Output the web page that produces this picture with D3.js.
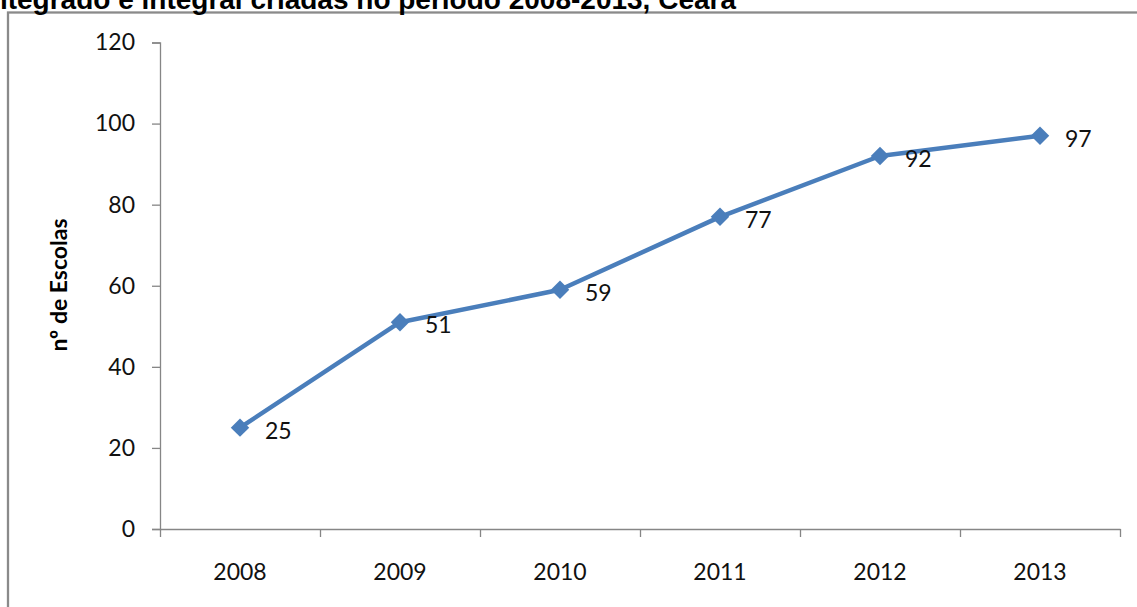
<!DOCTYPE html>
<html>
<head>
<meta charset="utf-8">
<script src="https://cdn.jsdelivr.net/npm/d3@7"></script>
<style>
  html, body { margin: 0; padding: 0; background: #fff; overflow: hidden; }
  .tickText text { font-family: Lato, "Open Sans", sans-serif; font-size: 23px; fill: #111; }
</style>
</head>
<body>
<div id="wrapper"></div>
<script>
const years = ["2008", "2009", "2010", "2011", "2012", "2013"];
const escolas = [25, 51, 59, 77, 92, 97];
const yTicks = [0, 20, 40, 60, 80, 100, 120];
const titleText = "integrado e integral criadas no período 2008-2013, Ceará";
const yLabel = "nº de Escolas";

const width = 1137;
let dimensions = {
  width,
  height: 607,
  margin: { top: 42.5, right: 17, bottom: 78, left: 160 },
};
dimensions.boundedWidth = dimensions.width - dimensions.margin.left - dimensions.margin.right;
dimensions.boundedHeight = dimensions.height - dimensions.margin.top - dimensions.margin.bottom;

const axisColor = "#868686";
const lineColor = "#4a7ebb";

const dataset = years.map((year, i) => ({ year, value: escolas[i] }));
const xAccessor = (d) => d.year;
const yAccessor = (d) => d.value;

const wrapper = d3.select("#wrapper")
  .append("svg")
  .attr("width", dimensions.width)
  .attr("height", dimensions.height);

// chart frame (runs off the right and bottom of the picture)
wrapper.append("rect")
  .attr("x", 8)
  .attr("y", 12.5)
  .attr("width", 1200)
  .attr("height", 700)
  .attr("fill", "none")
  .attr("stroke", "#8a8a8a")
  .attr("stroke-width", 2.3);

// title, cut off at the top and left like the source
wrapper.append("text")
  .attr("x", 736)
  .attr("y", 9)
  .attr("text-anchor", "end")
  .style("font-family", "'Liberation Sans', Arial, sans-serif")
  .style("font-weight", "bold")
  .style("font-size", "28px")
  .attr("fill", "#000")
  .text(titleText);

const bounds = wrapper.append("g")
  .attr("transform", `translate(${dimensions.margin.left},${dimensions.margin.top})`);

const xScale = d3.scaleBand()
  .domain(years)
  .range([0, dimensions.boundedWidth]);

const xEdges = d3.scaleLinear()
  .domain([0, years.length])
  .range([0, dimensions.boundedWidth]);

const yScale = d3.scaleLinear()
  .domain([0, 120])
  .range([dimensions.boundedHeight, 0]);

const xPos = (d) => xScale(xAccessor(d)) + xScale.bandwidth() / 2;
const yPos = (d) => yScale(yAccessor(d));

// y axis
const yAxis = bounds.append("g")
  .attr("class", "tickText")
  .call(d3.axisLeft(yScale).tickValues(yTicks).tickSize(8).tickPadding(17).tickFormat(d3.format("d")));
yAxis.selectAll("line, path").attr("stroke", axisColor).attr("stroke-width", 1.3);

// x axis: tick marks at the band edges, labels in the middle
const xTicks = bounds.append("g")
  .attr("transform", `translate(0,${dimensions.boundedHeight})`)
  .call(d3.axisBottom(xEdges).tickValues(d3.range(years.length + 1)).tickSize(8).tickSizeOuter(0).tickFormat(""));
xTicks.selectAll("line, path").attr("stroke", axisColor).attr("stroke-width", 1.3);

const xLabels = bounds.append("g")
  .attr("class", "tickText")
  .attr("transform", `translate(0,${dimensions.boundedHeight})`)
  .call(d3.axisBottom(xScale).tickSize(0).tickPadding(35));
xLabels.select(".domain").remove();

// y axis title
wrapper.append("text")
  .attr("transform", "translate(67,285) rotate(-90)")
  .attr("text-anchor", "middle")
  .style("font-family", "Lato, 'Open Sans', sans-serif")
  .style("font-weight", "bold")
  .style("font-size", "23px")
  .attr("fill", "#000")
  .text(yLabel);

// line
const lineGenerator = d3.line().x(xPos).y(yPos);
bounds.append("path")
  .datum(dataset)
  .attr("d", lineGenerator)
  .attr("fill", "none")
  .attr("stroke", lineColor)
  .attr("stroke-width", 4.5)
  .attr("stroke-linejoin", "round");

// diamond markers
bounds.selectAll(".marker")
  .data(dataset)
  .enter()
  .append("path")
  .attr("class", "marker")
  .attr("d", d3.symbol().type(d3.symbolSquare).size(170))
  .attr("transform", (d) => `translate(${xPos(d)},${yPos(d)}) rotate(45)`)
  .attr("fill", lineColor);

// value labels
bounds.selectAll(".valueLabel")
  .data(dataset)
  .enter()
  .append("text")
  .attr("class", "valueLabel")
  .attr("x", (d) => xPos(d) + 25)
  .attr("y", (d) => yPos(d) + 3)
  .attr("dy", "0.35em")
  .style("font-family", "Lato, 'Open Sans', sans-serif")
  .style("font-size", "23px")
  .attr("fill", "#111")
  .text((d) => d.value);
</script>
</body>
</html>
